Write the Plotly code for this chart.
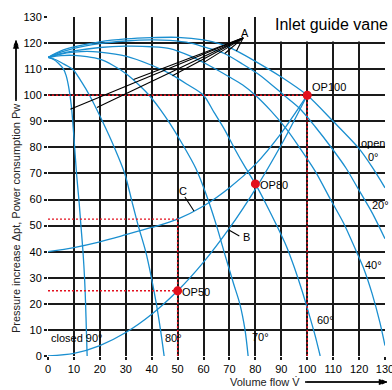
import plotly.graph_objects as go

# ---- Fan curves for inlet guide vane angles (volume flow, pressure) ----
flow_90 = [0, 2, 4, 6, 7, 8, 9, 10, 11, 12, 12.7, 13.5, 14.1, 14.5, 14.8, 15.1]
dp_90 = [114.5, 113.8, 112.3, 110, 107.5, 103, 96, 84, 70, 59, 50, 40, 30, 20, 10, 0]

flow_80 = [0, 3, 6, 9.7, 13, 16, 21, 25.8, 29.6, 32.2, 34.8, 37.7, 39.9, 41.8, 43.4, 44.8]
dp_80 = [114.5, 113.6, 112, 109.8, 105, 100, 90, 79.5, 70, 60, 50, 40, 30, 20, 10, 0]

flow_70 = [0, 5, 10, 15, 20, 25, 30, 35, 39, 43, 47, 52, 57, 61, 65, 68.5, 71.5, 74, 76, 77.2]
dp_70 = [114.5, 115.2, 115.3, 114.8, 113.8, 111.5, 108.3, 104, 100, 95, 89.2, 81, 72, 62, 50, 38, 28, 20, 10, 0]

flow_60 = [0, 5, 10, 15, 20, 30, 40, 47, 54, 60, 64, 68, 72, 76, 80, 84, 88, 92, 95, 98, 101, 103, 105]
dp_60 = [114.5, 115.8, 116.5, 116.8, 116.5, 115, 111.5, 108.3, 104, 100, 93.5, 87, 79.5, 72.5, 66, 58.5, 50.5, 42, 34, 25, 15, 8, 0]

flow_40 = [0, 5, 10, 20, 30, 40, 47, 55, 62, 70, 75, 80, 86, 92, 97, 103, 109, 114, 119, 122, 125, 128, 130]
dp_40 = [114.5, 116, 117, 118.3, 118.8, 118.6, 117.9, 115, 111.5, 107, 104, 100, 94, 87, 80, 71, 60, 51, 40, 33, 24, 13, 4]

flow_20 = [0, 5, 10, 20, 30, 40, 47, 55, 62, 68, 75, 82, 91, 97, 103, 110, 115, 120, 125, 130]
dp_20 = [114.5, 116.5, 118, 119.8, 120.8, 121.2, 121, 120, 118, 116, 112, 107.5, 100, 95, 88, 79, 72, 63.5, 55, 45]

flow_0 = [0, 5, 10, 20, 30, 40, 50, 60, 67, 72.7, 80, 90, 100, 110, 120, 125, 130]
dp_0 = [114.5, 117, 118.5, 120.5, 121.6, 122.1, 122.2, 121.2, 119.5, 117, 113, 107, 100, 90, 79.5, 72.5, 64.5]

# ---- System curves ----
flow_B = [0, 10, 20, 30, 40, 50, 60, 70, 80, 90, 100]
dp_B = [0, 1, 4, 9, 16, 25, 36, 49, 64, 81, 100]

flow_C = [0, 10, 20, 30, 40, 50, 60, 70, 80, 90, 100]
dp_C = [40, 41.6, 43.8, 46.5, 49.3, 52.5, 57.5, 64.5, 73.5, 85.5, 100]

# ---- Operating points ----
op_names = ["OP100", "OP80", "OP50"]
op_flow = [100, 80, 50]
op_dp = [100, 66, 25]

# ---- Line "A": apex and end points on the curves ----
apex_A = (75.3, 122)
A_end_flow = [8.6, 18.9, 33, 48, 60, 68.2, 72.7]
A_end_dp = [94.6, 95.3, 106, 107.5, 112.5, 116, 117]

# leader lines for labels B and C
B_leader_flow = [69.6, 73.8]
B_leader_dp = [48.4, 46]
C_leader_flow = [52.8, 56.3]
C_leader_dp = [61, 55.6]

# vane angle labels (position in data units)
vane_labels = ["closed 90°", "80°", "70°", "60°", "40°", "20°", "open<br>0°"]
vane_lab_x = [0.5, 44.3, 77.9, 103, 121.5, 124.2, 125.3]
vane_lab_y = [7, 7, 7.4, 13.8, 35, 58, 79]
vane_lab_anchor = ["left", "left", "left", "left", "left", "left", "center"]

x_ticks = list(range(0, 131, 10))
y_ticks = list(range(0, 131, 10))

# ---- page geometry (pixels) ----
W, H = 392, 390
PL, PR, PT, PB = 48, 385, 17, 356       # plot area edges
X_RANGE = [0, 130]
Y_RANGE = [0, 130]

BLUE = "#1a8fd0"
RED = "#e3101e"
FONT = "Arial, Liberation Sans, sans-serif"


def px_x(v):
    return PL + (v - X_RANGE[0]) * (PR - PL) / (X_RANGE[1] - X_RANGE[0])


def px_y(v):
    return PB - (v - Y_RANGE[0]) * (PB - PT) / (Y_RANGE[1] - Y_RANGE[0])


fig = go.Figure()

# axis-title arrows in page pixels (tail -> tip)
arrow_y = dict(tail=(16, 101), tip=(16, 40.5))
arrow_x = dict(tail=(305, 382), tip=(387, 382))

for arr in (arrow_y, arrow_x):
    (tx, ty), (hx, hy) = arr["tail"], arr["tip"]
    dx, dy = hx - tx, hy - ty
    n = (dx * dx + dy * dy) ** 0.5
    ux, uy = dx / n, dy / n
    bx, by = hx - 8 * ux, hy - 8 * uy
    # shaft + head as traces on a page-wide overlay subplot
    fig.add_trace(go.Scatter(x=[tx, bx + ux], y=[ty, by + uy], xaxis="x2", yaxis="y2",
                             mode="lines", line=dict(color="black", width=1.1),
                             hoverinfo="skip", showlegend=False))
    fig.add_trace(go.Scatter(x=[hx, bx - 2.7 * uy, bx + 2.7 * uy, hx],
                             y=[hy, by + 2.7 * ux, by - 2.7 * ux, hy],
                             xaxis="x2", yaxis="y2", mode="lines", fill="toself",
                             fillcolor="black", line=dict(color="black", width=0.5),
                             hoverinfo="skip", showlegend=False))

for fx, fy in [(flow_90, dp_90), (flow_80, dp_80), (flow_70, dp_70), (flow_60, dp_60),
               (flow_40, dp_40), (flow_20, dp_20), (flow_0, dp_0)]:
    fig.add_trace(go.Scatter(x=fx, y=fy, mode="lines",
                             line=dict(color=BLUE, width=1.3, shape="spline", smoothing=0.8),
                             hoverinfo="skip", showlegend=False))

for fx, fy in [(flow_B, dp_B), (flow_C, dp_C)]:
    fig.add_trace(go.Scatter(x=fx, y=fy, mode="lines",
                             line=dict(color=BLUE, width=1.3, shape="spline", smoothing=0.8),
                             hoverinfo="skip", showlegend=False))

guides = [
    ([0, op_flow[0]], [op_dp[0], op_dp[0]]),
    ([op_flow[0], op_flow[0]], [0, op_dp[0]]),
    ([0, op_flow[2]], [op_dp[2], op_dp[2]]),
    ([0, op_flow[2]], [dp_C[5], dp_C[5]]),
    ([op_flow[2], op_flow[2]], [0, dp_C[5]]),
]
for gx, gy in guides:
    fig.add_trace(go.Scatter(x=gx, y=gy, mode="lines",
                             line=dict(color=RED, width=1.4, dash="2px,2px"),
                             hoverinfo="skip", showlegend=False))

for ex, ey in zip(A_end_flow, A_end_dp):
    fig.add_trace(go.Scatter(x=[apex_A[0], ex], y=[apex_A[1], ey], mode="lines",
                             line=dict(color="black", width=1.1),
                             hoverinfo="skip", showlegend=False))

for lx, ly in [(B_leader_flow, B_leader_dp), (C_leader_flow, C_leader_dp)]:
    fig.add_trace(go.Scatter(x=lx, y=ly, mode="lines",
                             line=dict(color="black", width=1.1),
                             hoverinfo="skip", showlegend=False))

fig.add_trace(go.Scatter(x=op_flow, y=op_dp, mode="markers",
                         marker=dict(color=RED, size=9),
                         hoverinfo="skip", showlegend=False))


def lab_px(x, y, text, anchor="left", size=11, align="left", angle=0, color="black"):
    return dict(xref="x2", yref="y2", x=x, y=y, text=text, textangle=angle,
                showarrow=False, xanchor=anchor, yanchor="middle", align=align,
                font=dict(size=size, color=color, family=FONT))


def lab(x, y, text, anchor="left", size=11, align="left"):
    return lab_px(px_x(x), px_y(y), text, anchor, size, align)


annotations = []
for name, fx, fy in zip(op_names, op_flow, op_dp):
    dy = 3.3 if name == "OP100" else -0.4
    annotations.append(lab(fx + 1.0, fy + dy, name))

for t, lx, ly, anc in zip(vane_labels, vane_lab_x, vane_lab_y, vane_lab_anchor):
    annotations.append(lab(lx, ly, t, anchor=anc, align="center"))

annotations += [
    lab(75.9, 124, "A", anchor="center"),
    lab(74.3, 45.7, "B"),
    lab(52.1, 63.3, "C", anchor="center"),
    lab_px(272.5, 24, "Inlet guide vane", size=16),
    lab_px(16, 219, "Pressure increase Δpt, Power consumption Pw", anchor="center",
           angle=-90, color="#222"),
    lab_px(302, 382, "Volume flow V̇", anchor="right", color="#222"),
]
# the same arrows once more as annotation arrows (they coincide with the traces above)
for arr in (arrow_y, arrow_x):
    (tx, ty), (hx, hy) = arr["tail"], arr["tip"]
    annotations.append(dict(xref="x2", yref="y2", x=hx, y=hy, axref="x2", ayref="y2",
                            ax=tx, ay=ty, text="", showarrow=True, arrowhead=2,
                            arrowsize=1, arrowwidth=1, arrowcolor="black", standoff=0,
                            startstandoff=0))

# ...and as paper shapes (paper == full page because the margins are zero)
shapes = [dict(type="rect", xref="x", yref="y", x0=83, x1=131, y0=120.6, y1=131,
               fillcolor="white", line=dict(width=0), layer="between")]
for arr in (arrow_y, arrow_x):
    (tx, ty), (hx, hy) = arr["tail"], arr["tip"]
    shapes.append(dict(type="line", xref="paper", yref="paper", x0=tx / W, y0=1 - ty / H,
                       x1=hx / W, y1=1 - hy / H, line=dict(color="black", width=1)))

fig.update_layout(
    width=W, height=H,
    margin=dict(l=0, r=0, t=0, b=0, pad=0, autoexpand=False),
    paper_bgcolor="white", plot_bgcolor="rgba(0,0,0,0)",
    font=dict(family=FONT, size=11, color="black"),
    annotations=annotations,
    shapes=shapes,
    xaxis2=dict(domain=[0, 1], range=[0, W], visible=False, anchor="y2", fixedrange=True),
    yaxis2=dict(domain=[0, 1], range=[H, 0], visible=False, anchor="x2", fixedrange=True),
)
axis_common = dict(tickmode="array", showgrid=True, gridcolor="#1a1a1a",
                   gridwidth=1.5, zeroline=False, showline=False, ticks="outside",
                   ticklen=3, tickwidth=1.5, tickcolor="#1a1a1a", automargin=False,
                   ticklabeloverflow="allow", fixedrange=True,
                   tickfont=dict(size=11, color="black", family=FONT))
fig.layout.xaxis.update(domain=[PL / W, PR / W], anchor="y", range=X_RANGE, tickvals=x_ticks,
                        ticktext=[str(v) for v in x_ticks], **axis_common)
fig.layout.yaxis.update(domain=[(H - PB) / H, (H - PT) / H], anchor="x", range=Y_RANGE,
                        tickvals=y_ticks, ticktext=[str(v) for v in y_ticks], **axis_common)

# remove the default page margin so the 392x390 figure fills the window exactly
fig.write_html("out.html", config={"displayModeBar": False},
               post_script="document.body.style.margin='0px';")
